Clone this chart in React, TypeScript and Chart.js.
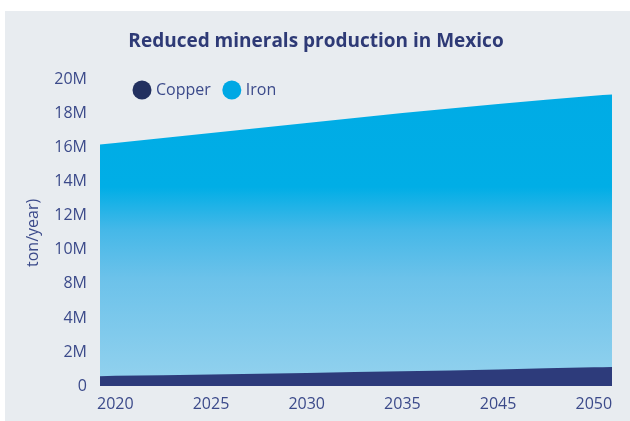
import React, { useEffect, useRef } from 'react';
import { Chart, registerables } from 'chart.js';

Chart.register(...registerables);

// ---- data ----
const chartTitle = 'Reduced minerals production in Mexico';
const yAxisTitle = 'ton/year)';
const xTickLabels = ['2020', '2025', '2030', '2035', '2045', '2050'];
const yTickLabels = ['0', '2M', '4M', '8M', '10M', '12M', '14M', '16M', '18M', '20M'];
const yTickValues = [0, 2, 4, 8, 10, 12, 14, 16, 18, 20]; // millions, as labelled
const seriesNames = ['Copper', 'Iron'];
// sample positions in tick slots (0 = "2020" tick ... 5 = "2050" tick); first/last are the area's edges
const samplePos = [-0.16, 0, 1, 2, 3, 4, 5, 5.19];
const copperValues = [0.58, 0.6, 0.68, 0.77, 0.86, 0.97, 1.1, 1.12]; // millions ton/year
const ironValues = [16.2, 16.28, 16.87, 17.46, 18.05, 18.58, 19.06, 19.13]; // millions ton/year

// ---- styles ----
const textColor = '#3b4a8a';
const titleColor = '#2e3a76';
const copperColor = '#2d3b7b';
const copperLegendColor = '#22305f';
const ironLegendColor = '#00a8e4';
const fontFamily = '"Open Sans", "Noto Sans", sans-serif';

// the axis positions its labels evenly; map a value onto that labelled axis
function toAxis(v: number): number {
  for (let i = 0; i < yTickValues.length - 1; i++) {
    const a = yTickValues[i];
    const b = yTickValues[i + 1];
    if (v >= a && v <= b) return i + (v - a) / (b - a);
  }
  return yTickValues.length - 1;
}

const legendPlugin = {
  id: 'customLegend',
  afterDraw(chart: any) {
    const ctx = chart.ctx;
    const colors = [copperLegendColor, ironLegendColor];
    ctx.save();
    ctx.font = `16px ${fontFamily}`;
    ctx.textBaseline = 'middle';
    ctx.textAlign = 'left';
    let cx = chart.chartArea.left + 42;
    const cy = 90;
    chart.data.datasets.forEach((ds: any, i: number) => {
      ctx.fillStyle = colors[i];
      ctx.beginPath();
      ctx.arc(cx, cy, 9.5, 0, Math.PI * 2);
      ctx.fill();
      ctx.fillStyle = textColor;
      ctx.fillText(ds.label, cx + 14, cy + 0.5);
      cx += 14 + ctx.measureText(ds.label).width + 21;
    });
    ctx.restore();
  },
};

export default function App() {
  const canvasRef = useRef<HTMLCanvasElement | null>(null);

  useEffect(() => {
    document.body.style.margin = '0';
    const canvas = canvasRef.current;
    if (!canvas) return;

    const ironGradient = (context: any) => {
      const chart = context.chart;
      const ca = chart.chartArea;
      if (!ca) return '#00aee6';
      const g = chart.ctx.createLinearGradient(0, ca.top, 0, ca.bottom);
      g.addColorStop(0, '#00abe5');
      g.addColorStop(0.35, '#00aee6');
      g.addColorStop(0.49, '#45b8e8');
      g.addColorStop(0.65, '#6cc2ea');
      g.addColorStop(1, '#94d2ee');
      return g;
    };

    const chart = new Chart(canvas, {
      type: 'line',
      data: {
        datasets: [
          {
            label: seriesNames[0],
            data: samplePos.map((x, i) => ({ x, y: toAxis(copperValues[i]) })),
            fill: 'origin',
            backgroundColor: copperColor,
            borderWidth: 0,
            pointRadius: 0,
            tension: 0.4,
            cubicInterpolationMode: 'monotone',
          },
          {
            label: seriesNames[1],
            data: samplePos.map((x, i) => ({ x, y: toAxis(ironValues[i]) })),
            fill: 'origin',
            backgroundColor: ironGradient,
            borderWidth: 0,
            pointRadius: 0,
            tension: 0.4,
            cubicInterpolationMode: 'monotone',
          },
        ],
      },
      options: {
        responsive: false,
        animation: false,
        layout: { padding: { left: 20, right: 18, top: 0, bottom: 0 } },
        plugins: {
          legend: { display: false },
          tooltip: { enabled: false },
          title: {
            display: true,
            text: chartTitle,
            color: titleColor,
            font: { family: fontFamily, size: 19, weight: 'bold' },
            padding: { top: 30, bottom: 27 },
          },
        },
        scales: {
          x: {
            type: 'linear',
            min: samplePos[0],
            max: samplePos[samplePos.length - 1],
            grid: { display: false, drawTicks: false },
            border: { display: false },
            afterBuildTicks: (s: any) => {
              s.ticks = xTickLabels.map((_, i) => ({ value: i }));
            },
            afterFit: (s: any) => {
              s.height = 35;
            },
            ticks: {
              autoSkip: false,
              maxRotation: 0,
              padding: 9,
              color: textColor,
              font: { family: fontFamily, size: 16 },
              callback: (_v: any, i: number) => xTickLabels[i],
            },
          },
          y: {
            type: 'linear',
            min: 0,
            max: yTickLabels.length - 1,
            grid: { display: false, drawTicks: false },
            border: { display: false },
            afterBuildTicks: (s: any) => {
              s.ticks = yTickLabels.map((_, i) => ({ value: i }));
            },
            afterFit: (s: any) => {
              s.width = 80;
            },
            ticks: {
              autoSkip: false,
              padding: 13,
              color: textColor,
              font: { family: fontFamily, size: 16 },
              callback: (_v: any, i: number) => yTickLabels[i],
            },
            title: {
              display: true,
              text: yAxisTitle,
              color: textColor,
              font: { family: fontFamily, size: 16 },
              padding: { top: 4, bottom: 0 },
            },
          },
        },
      },
      plugins: [legendPlugin],
    } as any);

    return () => chart.destroy();
  }, []);

  return (
    <div style={{ position: 'relative', width: 630, height: 421, background: '#ffffff', overflow: 'hidden' }}>
      <div style={{ position: 'absolute', left: 5, top: 11, right: 0, bottom: 0, background: '#e8ecf0' }} />
      <canvas
        ref={canvasRef}
        width={630}
        height={421}
        style={{ position: 'absolute', left: 0, top: 0, width: 630, height: 421 }}
      />
    </div>
  );
}
